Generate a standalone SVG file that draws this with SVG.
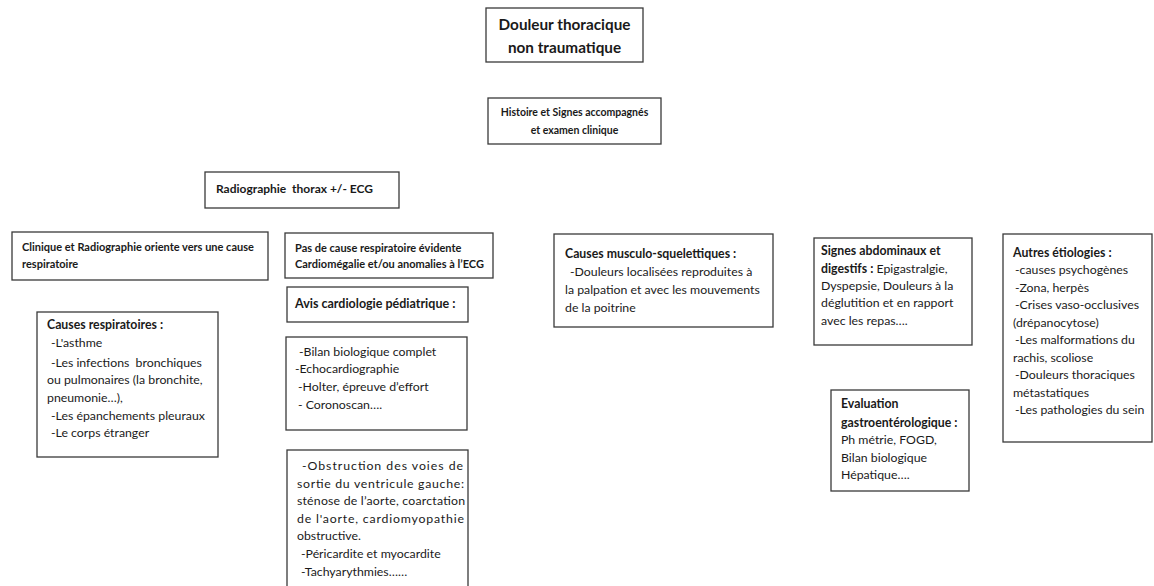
<svg xmlns="http://www.w3.org/2000/svg" width="1154" height="586" viewBox="0 0 1154 586">
<style>
  .box { fill: #ffffff; stroke: #3a3a3a; stroke-width: 1.3; }
  text { font-family: Lato, "Liberation Sans", sans-serif; fill: #1a1a1a; }
  .t { font-size: 12.3px; }
  .b { font-weight: bold; }
  .title { font-size: 15.3px; font-weight: bold; }
  .small { font-size: 10.5px; font-weight: bold; }
  .mid { font-size: 11px; font-weight: bold; }
</style>
<rect width="1154" height="586" fill="#ffffff"/>
<g id="connectors"></g>

<g id="n-douleur">
  <rect class="box" x="486" y="8" width="157" height="54"/>
  <text class="title" x="564.5" y="30" text-anchor="middle">Douleur thoracique</text>
  <text class="title" x="564.5" y="53" text-anchor="middle">non traumatique</text>
</g>

<g id="n-histoire">
  <rect class="box" x="488" y="98" width="173" height="46"/>
  <text class="small" x="574.5" y="116" text-anchor="middle">Histoire et Signes accompagnés</text>
  <text class="small" x="574.5" y="134" text-anchor="middle">et examen clinique</text>
</g>

<g id="n-radio">
  <rect class="box" x="205" y="172" width="194" height="36"/>
  <text class="b" x="216" y="193" font-size="12" xml:space="preserve">Radiographie  thorax +/- ECG</text>
</g>

<g id="n-clinique">
  <rect class="box" x="12" y="232" width="256" height="48"/>
  <text class="mid" x="22" y="251">Clinique et Radiographie oriente vers une cause</text>
  <text class="mid" x="22" y="268">respiratoire</text>
</g>

<g id="n-resp">
  <rect class="box" x="37" y="312" width="181" height="145"/>
  <text class="t b" x="47" y="329">Causes respiratoires :</text>
  <text class="t" x="51" y="347">-L'asthme</text>
  <text class="t" x="51" y="367" xml:space="preserve">-Les infections  bronchiques</text>
  <text class="t" x="47" y="384">ou pulmonaires (la bronchite,</text>
  <text class="t" x="47" y="402">pneumonie…),</text>
  <text class="t" x="51" y="420">-Les épanchements pleuraux</text>
  <text class="t" x="51" y="437">-Le corps étranger</text>
</g>

<g id="n-pasdecause">
  <rect class="box" x="285" y="233" width="208" height="45"/>
  <text class="mid" x="295" y="252">Pas de cause respiratoire évidente</text>
  <text class="mid" x="295" y="268">Cardiomégalie et/ou anomalies à l’ECG</text>
</g>

<g id="n-avis">
  <rect class="box" x="287" y="287" width="181" height="35"/>
  <text class="b" x="295" y="308" font-size="12.5">Avis cardiologie pédiatrique :</text>
</g>

<g id="n-bilan">
  <rect class="box" x="286" y="337" width="181" height="93"/>
  <text class="t" x="299" y="356">-Bilan biologique complet</text>
  <text class="t" x="295" y="373">-Echocardiographie</text>
  <text class="t" x="298" y="391">-Holter, épreuve d’effort</text>
  <text class="t" x="298" y="409" xml:space="preserve">- Coronoscan….</text>
</g>

<g id="n-obstruction">
  <rect class="box" x="287" y="450" width="181" height="140"/>
  <text class="t" x="302" y="470" textLength="161" lengthAdjust="spacing">-Obstruction des voies de</text>
  <text class="t" x="297" y="488" textLength="167" lengthAdjust="spacing">sortie du ventricule gauche:</text>
  <text class="t" x="297" y="505" textLength="168" lengthAdjust="spacing">sténose de l’aorte, coarctation</text>
  <text class="t" x="297" y="523" textLength="167" lengthAdjust="spacing">de l'aorte, cardiomyopathie</text>
  <text class="t" x="297" y="540">obstructive.</text>
  <text class="t" x="301" y="558">-Péricardite et myocardite</text>
  <text class="t" x="301" y="576">-Tachyarythmies……</text>
</g>

<g id="n-musculo">
  <rect class="box" x="554" y="234" width="219" height="93"/>
  <text class="t b" x="565" y="258">Causes musculo-squelettiques :</text>
  <text class="t" x="570" y="276">-Douleurs localisées reproduites à</text>
  <text class="t" x="565" y="294">la palpation et avec les mouvements</text>
  <text class="t" x="565" y="312">de la poitrine</text>
</g>

<g id="n-abdo">
  <rect class="box" x="814" y="238" width="158" height="107"/>
  <text class="t b" x="821" y="255">Signes abdominaux et</text>
  <text class="t" x="821" y="273"><tspan class="b">digestifs :</tspan> Epigastralgie,</text>
  <text class="t" x="821" y="290">Dyspepsie, Douleurs à la</text>
  <text class="t" x="821" y="307">déglutition et en rapport</text>
  <text class="t" x="821" y="325">avec les repas….</text>
</g>

<g id="n-gastro">
  <rect class="box" x="831" y="390" width="138" height="101"/>
  <text class="t b" x="841" y="408">Evaluation</text>
  <text class="t b" x="841" y="427">gastroentérologique :</text>
  <text class="t" x="841" y="444">Ph métrie, FOGD,</text>
  <text class="t" x="841" y="462">Bilan biologique</text>
  <text class="t" x="841" y="479">Hépatique….</text>
</g>

<g id="n-autres">
  <rect class="box" x="1003" y="234" width="149" height="208"/>
  <text class="t b" x="1013" y="257">Autres étiologies :</text>
  <text class="t" x="1015" y="274">-causes psychogènes</text>
  <text class="t" x="1015" y="292">-Zona, herpès</text>
  <text class="t" x="1015" y="309">-Crises vaso-occlusives</text>
  <text class="t" x="1013" y="327">(drépanocytose)</text>
  <text class="t" x="1015" y="344">-Les malformations du</text>
  <text class="t" x="1013" y="362">rachis, scoliose</text>
  <text class="t" x="1015" y="379">-Douleurs thoraciques</text>
  <text class="t" x="1013" y="397">métastatiques</text>
  <text class="t" x="1015" y="414">-Les pathologies du sein</text>
</g>
</svg>
